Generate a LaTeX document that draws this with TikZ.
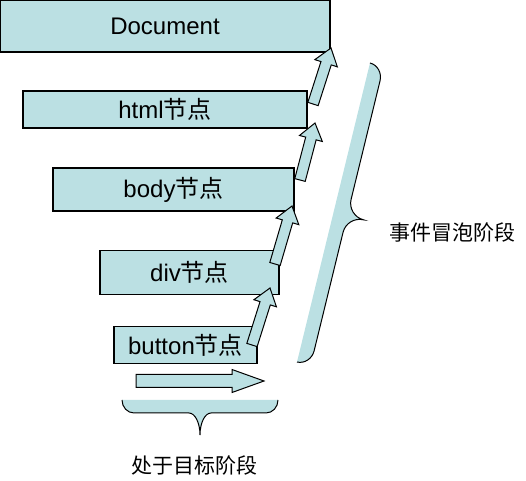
\documentclass[tikz,border=0pt]{standalone}
\usepackage{fontspec}
\setmainfont{Liberation Sans}
\newfontfamily\cjk{Noto Sans CJK SC}
\usetikzlibrary{calc}
\usetikzlibrary{positioning}

\definecolor{bubble}{RGB}{187,224,227}

% brace outline: length, end width, shoulder, tip width, tip depth
\newcommand{\bracecurve}[5]{(0,0) .. controls (0,{0.55*#3}) and ({0.45*#2},#3) .. (#2,#3)
 -- ({#1/2-#4},#3) .. controls ({#1/2-0.45*#4},#3) and ({#1/2},{#5-0.55*(#5-#3)}) .. ({#1/2},#5)
 .. controls ({#1/2},{#5-0.55*(#5-#3)}) and ({#1/2+0.45*#4},#3) .. ({#1/2+#4},#3)
 -- ({#1-#2},#3) .. controls ({#1-0.45*#2},#3) and (#1,{0.55*#3}) .. (#1,0)}

\begin{document}
\begin{tikzpicture}
	[x=0.5pt, y=-0.5pt,
	box/.style={draw, line width=0.8pt, fill=bubble, inner sep=0pt, font=\fontsize{12}{14}\selectfont},
	fatarrow/.style n args={3}{draw, line width=0.5pt, fill=bubble,
		to path={let \p1=($(\tikztotarget)-(\tikztostart)$), \n1={atan2(\y1,\x1)}, \n2={veclen(\x1,\y1)-#3} in
		($(\tikztostart)+(\n1+90:#1pt)$) -- ($(\tikztostart)+(\n1:\n2)+(\n1+90:#1pt)$)
		-- ($(\tikztostart)+(\n1:\n2)+(\n1+90:#2pt)$) -- (\tikztotarget)
		-- ($(\tikztostart)+(\n1:\n2)+(\n1-90:#2pt)$) -- ($(\tikztostart)+(\n1:\n2)+(\n1-90:#1pt)$)
		-- ($(\tikztostart)+(\n1-90:#1pt)$) -- cycle}},
	label/.style={font=\cjk\fontsize{10.5}{12}\selectfont}]

\useasboundingbox (0,0) rectangle (526,481);

% the nodes
\node [box, minimum width=165pt, minimum height=26pt] (doc) at (165,26) {Document};
\node [box, minimum width=142pt, minimum height=18.5pt] (html) at (165,109.5) {html{\cjk 节点}};
\node [box, minimum width=120.5pt, minimum height=21.5pt] (body) at (173.5,189.5) {body{\cjk 节点}};
\node [box, minimum width=89.5pt, minimum height=22pt] (div) at (189.5,272.5) {div{\cjk 节点}};
\node [box, minimum width=71.5pt, minimum height=18.5pt] (button) at (185.5,345) {button{\cjk 节点}};

% bubbling arrows
\coordinate (t1) at (252,345);
\coordinate (h1) at (270,288);
\coordinate (t2) at (275,264);
\coordinate (h2) at (292,206);
\coordinate (t3) at (300,180);
\coordinate (h3) at (315,123);
\coordinate (t4) at (313,104);
\coordinate (h4) at (331,48);
\draw [fatarrow={2.7}{5.9}{8}] (t1) to (h1);
\draw [fatarrow={2.7}{5.9}{8}] (t2) to (h2);
\draw [fatarrow={2.7}{5.9}{8}] (t3) to (h3);
\draw [fatarrow={2.7}{5.9}{8}] (t4) to (h4);

% target arrow
\coordinate (ts) at (136,381);
\coordinate (te) at (264,381);
\draw [fatarrow={3.25}{5.75}{16}] (ts) to (te);

% braces
\begin{scope}[shift={(297,362)}, x={(0.1185pt,0.4854pt)}, y={(0.4854pt,-0.1185pt)}]
	\fill [bubble] \bracecurve{308}{15}{14}{17}{31} -- cycle;
	\draw [line width=0.5pt] \bracecurve{308}{15}{14}{17}{31};
\end{scope}
\begin{scope}[shift={(122,400)}]
	\fill [bubble] \bracecurve{156}{12}{13}{11}{35} -- cycle;
	\draw [line width=0.5pt] \bracecurve{156}{12}{13}{11}{35};
\end{scope}

\node [label] (bubblelbl) at (452,232) {事件冒泡阶段};
\node [label] (targetlbl) at (195,465) {处于目标阶段};

\end{tikzpicture}
\end{document}
